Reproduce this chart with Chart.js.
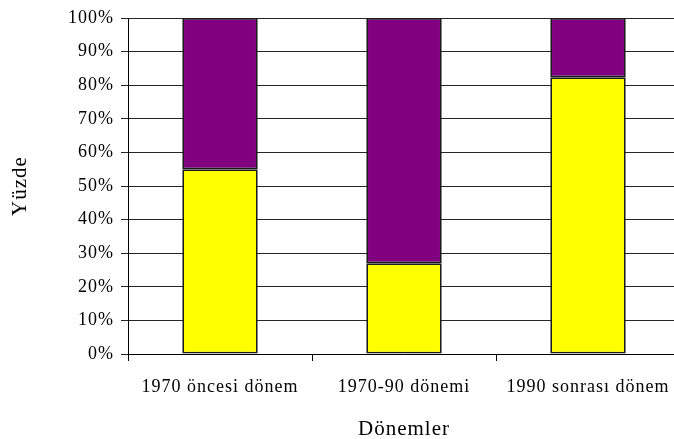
<!DOCTYPE html>
<html>
<head>
<meta charset="utf-8">
<script src="https://cdn.jsdelivr.net/npm/chart.js@4/dist/chart.umd.min.js"></script>
<style>
  body { margin: 0; overflow: hidden; background: #fff; }
  canvas { display: block; }
</style>
</head>
<body>
<canvas id="chart" width="690" height="439"></canvas>
<script>
'use strict';

// Periods on the x axis
var categories = ['1970 öncesi dönem', '1970-90 dönemi', '1990 sonrası dönem'];
// Shares in percent (stacked to 100)
var yellowValues = [55.0, 27.0, 82.4];
var purpleValues = [45.0, 73.0, 17.6];
var yTicks = [0, 10, 20, 30, 40, 50, 60, 70, 80, 90, 100];

var serif = 'Liberation Serif, Times New Roman, serif';

// The original text is set a little loose, so widen the letters a bit.
var looseText = {
  id: 'looseText',
  beforeDraw: function(chart) {
    chart.ctx.letterSpacing = '1px';
  }
};

var ctx = document.getElementById('chart').getContext('2d');
new Chart(ctx, {
  type: 'bar',
  data: {
    labels: categories,
    datasets: [{
      data: yellowValues,
      backgroundColor: '#ffff00',
      borderColor: '#1a1a1a',
      borderWidth: 1.75,
      borderSkipped: false,
      barPercentage: 0.41,
      categoryPercentage: 1
    }, {
      data: purpleValues,
      backgroundColor: '#800080',
      borderColor: '#1a1a1a',
      borderWidth: 1.75,
      borderSkipped: false,
      barPercentage: 0.41,
      categoryPercentage: 1
    }]
  },
  plugins: [looseText],
  options: {
    responsive: false,
    animation: false,
    layout: { padding: { top: 18, right: 10, left: 0, bottom: 0 } },
    plugins: {
      legend: { display: false },
      tooltip: { enabled: false }
    },
    scales: {
      x: {
        stacked: true,
        afterFit: function(scale) { scale.height = 85; },
        grid: {
          offset: true,
          drawOnChartArea: false,
          color: '#000000',
          tickLength: 7
        },
        border: { color: '#000000', width: 1 },
        ticks: {
          color: '#000000',
          padding: 15,
          maxRotation: 0,
          font: { family: serif, size: 18 }
        },
        title: {
          display: true,
          text: 'Dönemler',
          color: '#000000',
          padding: { top: 0, bottom: -3 },
          font: { family: serif, size: 21 }
        }
      },
      y: {
        stacked: true,
        min: 0,
        max: 100,
        afterFit: function(scale) { scale.width = 128; },
        afterBuildTicks: function(scale) {
          scale.ticks = yTicks.map(function(v) { return { value: v }; });
        },
        grid: { color: '#262626', tickLength: 7 },
        border: { color: '#000000', width: 1 },
        ticks: {
          color: '#000000',
          padding: 7,
          font: { family: serif, size: 18 },
          callback: function(v) { return v + '%'; }
        },
        title: {
          display: true,
          text: 'Yüzde',
          color: '#000000',
          padding: { top: 8, bottom: 0 },
          font: { family: serif, size: 21 }
        }
      }
    }
  }
});
</script>
</body>
</html>
